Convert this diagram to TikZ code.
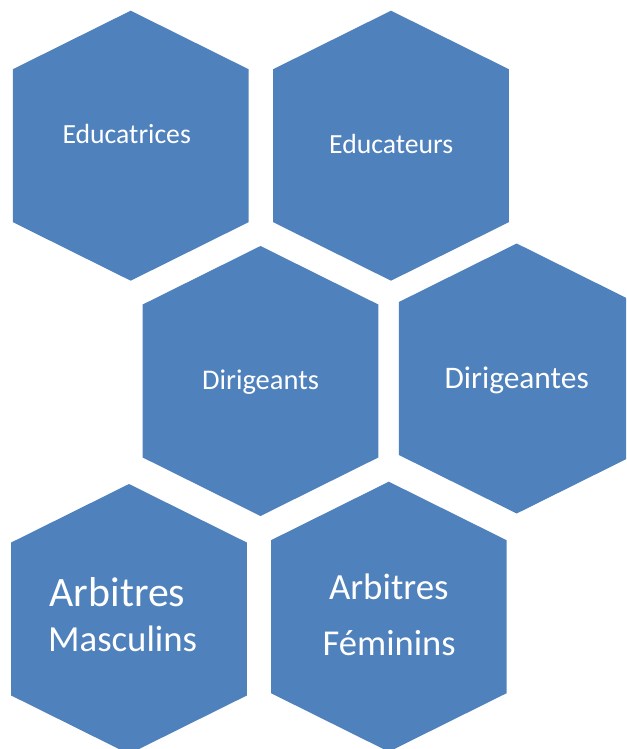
\documentclass[tikz,border=0pt]{standalone}
\usepackage{fontspec}
\setmainfont{Carlito}
\usetikzlibrary{positioning}
\definecolor{hexblue}{RGB}{79,129,189}
\tikzset{
  hexagon/.style={fill=hexblue, draw=none},
  hextext/.style={text=white, inner sep=0pt, anchor=base},
}
\newcommand{\hexpath}[1]{(#1) ++(0,-135) -- ++(117.8,58.5) -- ++(0,153) -- ++(-117.8,58.5) -- ++(-117.8,-58.5) -- ++(0,-153) -- cycle}
\newcommand{\fsz}[1]{\fontsize{#1}{#1}\selectfont}

\begin{document}
\begin{tikzpicture}[x=1pt, y=-1pt]
\useasboundingbox (0,0) rectangle (626,749);
\clip (0,0) rectangle (626,749);

% Hexagon centres
\coordinate (educatrices) at (130.7,145.7);
\coordinate (educateurs) at (391,145.7);
\coordinate (dirigeants) at (260.5,381);
\coordinate (dirigeantes) at (516.7,378.5);
\coordinate (arbmasc) at (129,619);
\coordinate (arbfem) at (388.8,616.7);

% Hexagons
\foreach \h in {educatrices, educateurs, dirigeants, dirigeantes, arbmasc, arbfem}
  \fill[hexagon] \hexpath{\h};

% Texts
\node[hextext, font=\fsz{27.7}] (txtEducatrices) at (126.7,143.3) {Educatrices};
\node[hextext, font=\fsz{27.7}] (txtEducateurs) at (391.2,153.3) {Educateurs};
\node[hextext, font=\fsz{28.5}] (txtDirigeants) at (260.5,389.3) {Dirigeants};
\node[hextext, font=\fsz{31.4}] (txtDirigeantes) at (516.7,388.3) {Dirigeantes};

\node[hextext, anchor=base west, font=\fsz{41.8}] (txtArbitresM) at (49.5,606) {Arbitres};
\node[hextext, anchor=base west, font=\fsz{36.8}] (txtMasculins) at (48,651.7) {Masculins};
\node[hextext, font=\fsz{36.9}] (txtArbitresF) at (388.8,599.3) {Arbitres};
\node[hextext, font=\fsz{36.5}] (txtFeminins) at (389.2,655.3) {Féminins};
\end{tikzpicture}
\end{document}
